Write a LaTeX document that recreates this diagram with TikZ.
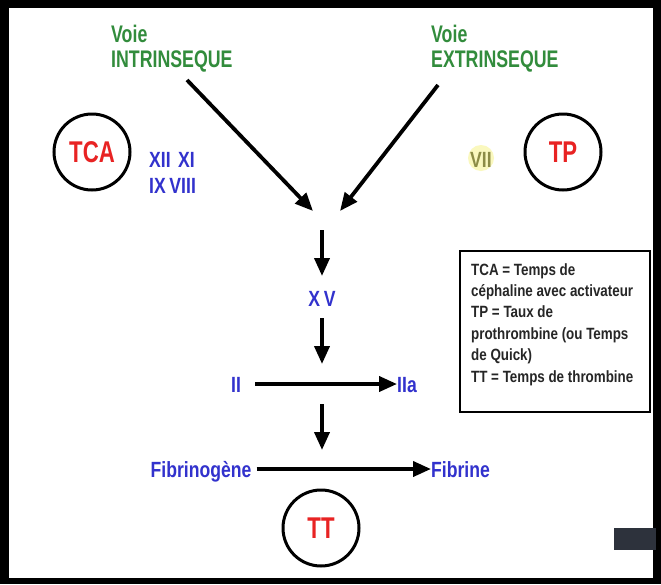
\documentclass[tikz,border=0pt]{standalone}
\usepackage{fontspec}
\setmainfont[FakeStretch=0.82]{Liberation Sans}
\newfontfamily\narrowfont[FakeStretch=0.74]{Liberation Sans}
\newfontfamily\bluefont[FakeStretch=0.8]{Liberation Sans}
\usetikzlibrary{arrows.meta}
\definecolor{vgreen}{RGB}{50,140,60}
\definecolor{vblue}{RGB}{50,50,205}
\definecolor{vred}{RGB}{232,35,35}
\definecolor{volive}{RGB}{140,140,70}
\definecolor{hl}{RGB}{250,248,190}
\definecolor{darkbox}{RGB}{45,50,60}
\begin{document}
\begin{tikzpicture}[x=1pt,y=-1pt,
  green/.style={text=vgreen,font=\narrowfont\bfseries\fontsize{24}{22}\selectfont,inner sep=0,anchor=base west,align=left},
  blue/.style={text=vblue,font=\bluefont\bfseries\fontsize{22}{26}\selectfont,inner sep=0,anchor=base},
  ring/.style={circle,draw=black,line width=3pt,minimum size=76pt,text=vred,font=\narrowfont\bfseries\fontsize{30}{30}\selectfont},
  arr/.style={line width=3.8pt,-{Triangle[length=18pt,width=15pt]}},
  legend/.style={font=\bfseries\fontsize{16.3}{21.4}\selectfont,text=black!85,align=left,inner sep=0,anchor=north west}]
\useasboundingbox (0,0) rectangle (661,584);
\fill[black] (0,0) rectangle (661,584);
\fill[white] (9,8) rectangle (653,578);
% top labels
\node[green] (vi1) at (111,42) {Voie};
\node[green] (vi2) at (111,67) {INTRINSEQUE};
\node[green] (ve1) at (431,42) {Voie};
\node[green] (ve2) at (431,67) {EXTRINSEQUE};
\coordinate (a1s) at (187,80);
\coordinate (a1e) at (313,211);
\coordinate (a2s) at (438,85);
\coordinate (a2e) at (340,211);
\draw[arr] (a1s) -- (a1e);
\draw[arr] (a2s) -- (a2e);
% circles
\node[ring] (tca) at (92,152) {TCA};
\node[ring] (tp) at (563,152) {TP};
\node[ring] (tt) at (321,528) {TT};
% factors
\node[blue,anchor=base west] (f1) at (149,167) {XII\,\,XI};
\node[blue,anchor=base west] (f2) at (149,193) {IX\,VIII};
\fill[hl] (481,158) circle (13);
\node[blue,text=volive] (f7) at (481,167) {VII};
% chain
\coordinate (c1) at (322,230);
\node[blue] (xv) at (322,306) {X\,V};
\coordinate (c1e) at (322,276);
\draw[arr] (c1) -- (c1e);
\coordinate (c2) at (322,318);
\coordinate (c3) at (322,364);
\draw[arr] (c2) -- (c3);
\node[blue] (ii) at (236,392) {II};
\node[blue] (iia) at (407,392) {IIa};
\draw[arr] ([xshift=14pt,yshift=8pt]ii.base east) -- ([yshift=8pt]iia.base west);
\node[blue] (fg) at (201,477) {Fibrinogène};
\node[blue,anchor=base west] (fb) at (431,477) {Fibrine};
\coordinate (c4) at (322,404);
\coordinate (c5) at (322,450);
\draw[arr] (c4) -- (c5);
\draw[arr] ([xshift=5pt,yshift=8pt]fg.base east) -- ([yshift=8pt]fb.base west);
% legend
\draw[line width=2.4pt] (460,251) rectangle (650,412);
\node[legend] (lg) at (471,263) {TCA = Temps de\\céphaline avec activateur\\TP = Taux de\\prothrombine (ou Temps\\de Quick)\\TT = Temps de thrombine};
% screen artefact
\fill[darkbox] (614,528) rectangle (656,550);
\end{tikzpicture}
\end{document}
